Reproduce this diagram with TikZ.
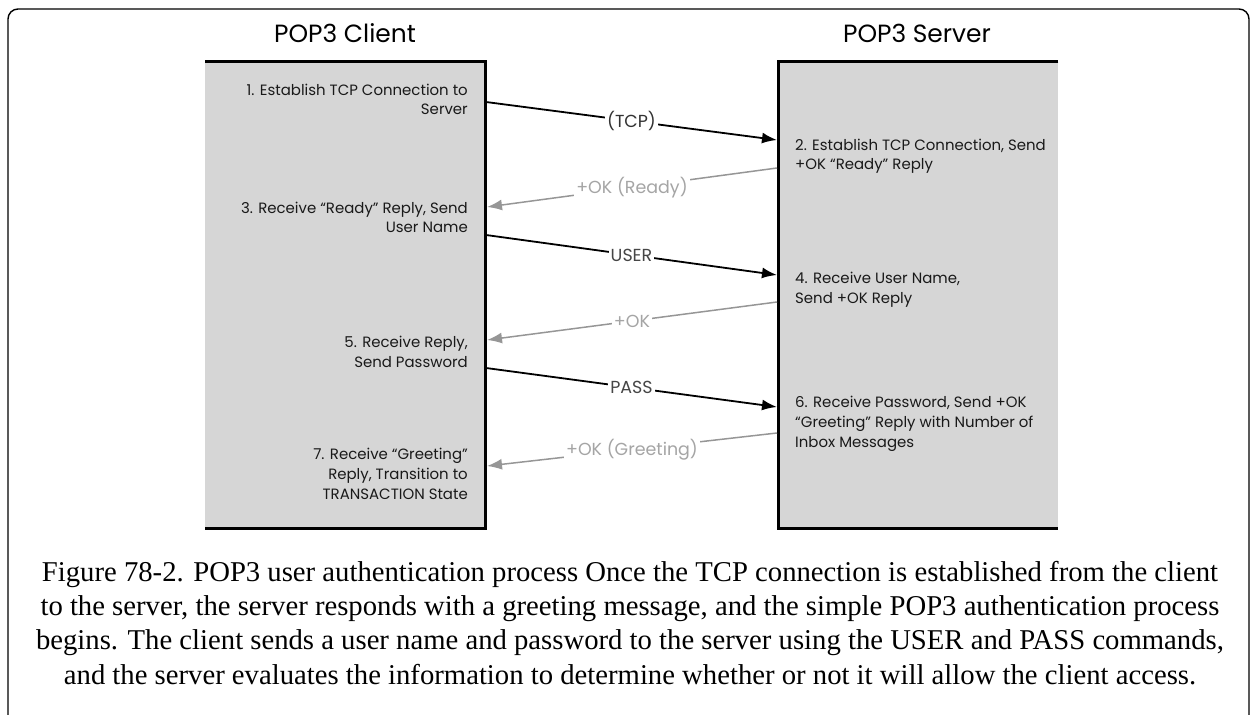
\documentclass[tikz,border=0pt]{standalone}
\usepackage{fontspec}
\setmainfont{Liberation Serif}
\newfontfamily\fut{Poppins}
\usetikzlibrary{arrows.meta}
\definecolor{boxgray}{RGB}{214,214,214}
\definecolor{replygray}{RGB}{150,150,150}
\definecolor{replytext}{RGB}{165,165,165}
\definecolor{msgtext}{RGB}{70,70,70}
\definecolor{txt}{RGB}{25,25,25}
\begin{document}
\begin{tikzpicture}[x=1bp,y=-1bp,
  hdr/.style={font=\fut\fontsize{25}{30}\selectfont, text=black, inner sep=0pt, anchor=base},
  ctext/.style={font=\fut\fontsize{15}{20}\selectfont, text=txt, inner sep=0pt, align=right, anchor=base east},
  stext/.style={font=\fut\fontsize{15}{20}\selectfont, text=txt, inner sep=0pt, align=left, anchor=base west},
  panel/.style={fill=boxgray, draw=none, inner sep=0pt, minimum width=280bp, minimum height=466bp, anchor=north west},
  border/.style={line width=3bp, black},
  msg/.style={line width=1.8bp, black, -{Latex[length=15bp,width=11bp]}},
  reply/.style={line width=1.5bp, replygray, -{Latex[length=15bp,width=11bp]}},
  mlabel/.style={font=\fut\fontsize{17.5}{20}\selectfont, fill=white, inner sep=2pt, text=msgtext},
  rlabel/.style={font=\fut\fontsize{17.5}{20}\selectfont, fill=white, inner sep=2pt, text=replytext},
  captext/.style={font=\fontsize{28.8}{34.2}\selectfont, align=center, inner sep=0pt, anchor=base}]
\useasboundingbox (0,0) rectangle (1250,715);
% outer frame
\draw[line width=1.4bp, rounded corners=10bp] (8,740) -- (8,9) -- (1249,9) -- (1249,740);
% panels
\node[panel] (client) at (205,62) {};
\node[panel] (server) at (778,62) {};
\draw[border] (client.north west) -- (client.north east) -- (client.south east) -- (client.south west);
\draw[border] (server.north east) -- (server.north west) -- (server.south west) -- (server.south east);
% headers
\node[hdr] (hc) at (345,43) {POP3 Client};
\node[hdr] (hs) at (917,43) {POP3 Server};
% client texts (anchor = baseline of last line)
\node[ctext] (t1) at (468,115) {1. Establish TCP Connection to\\Server};
\node[ctext] (t3) at (468,233) {3. Receive “Ready” Reply, Send\\User Name};
\node[ctext] (t5) at (468,367) {5. Receive Reply,\\Send Password};
\node[ctext] (t7) at (468,499) {7. Receive “Greeting”\\Reply, Transition to\\TRANSACTION State};
% server texts
\node[stext] (t2) at (795,170) {2. Establish TCP Connection, Send\\+OK “Ready” Reply};
\node[stext] (t4) at (795,303) {4. Receive User Name,\\Send +OK Reply};
\node[stext] (t6) at (795,447) {6. Receive Password, Send +OK\\“Greeting” Reply with Number of\\Inbox Messages};
% connector ends
\coordinate (c1) at (486,102);  \coordinate (s1) at (777,140);
\coordinate (s2) at (777,168);  \coordinate (c2) at (487,207);
\coordinate (c3) at (486,235);  \coordinate (s3) at (777,275);
\coordinate (s4) at (777,302);  \coordinate (c4) at (487,340);
\coordinate (c5) at (486,368);  \coordinate (s5) at (777,407);
\coordinate (s6) at (777,433);  \coordinate (c6) at (487,466);
% connectors
\draw[msg] (c1) -- node[mlabel, text=black!80] (ltcp) {(TCP)} (s1);
\draw[reply] (s2) -- node[rlabel] (lready) {+OK (Ready)} (c2);
\draw[msg] (c3) -- node[mlabel] (luser) {USER} (s3);
\draw[reply] (s4) -- node[rlabel] (lok) {+OK} (c4);
\draw[msg] (c5) -- node[mlabel] (lpass) {PASS} (s5);
\draw[reply] (s6) -- node[rlabel] (lgreet) {+OK (Greeting)} (c6);
% caption (anchor = baseline of last line)
\node[captext] (caption) at (630,684) {Figure 78-2. POP3 user authentication process Once the TCP connection is established from the client\\to the server, the server responds with a greeting message, and the simple POP3 authentication process\\begins. The client sends a user name and password to the server using the USER and PASS commands,\\and the server evaluates the information to determine whether or not it will allow the client access.};
\end{tikzpicture}
\end{document}
